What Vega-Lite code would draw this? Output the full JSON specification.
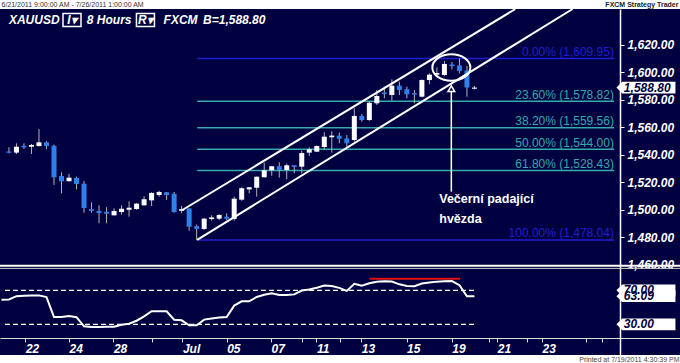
{
  "$schema": "https://vega.github.io/schema/vega-lite/v6.json",
  "width": 680,
  "height": 346,
  "autosize": {"type": "none"},
  "padding": {"left": 0, "right": 0, "top": 9, "bottom": 8},
  "background": "#ffffff",
  "config": {"view": {"fill": "#000040", "stroke": null}, "font": "Liberation Sans", "axis": {"grid": false, "labelOverlap": false}},
  "datasets": {
    "candles": [
      {"i":0,"O":1542.4,"H":1545.4,"L":1541.0,"C":1541.4},
      {"i":1,"O":1541.5,"H":1548.3,"L":1540.5,"C":1545.8},
      {"i":2,"O":1546.4,"H":1548.3,"L":1544.2,"C":1545.3},
      {"i":3,"O":1545.8,"H":1547.8,"L":1540.5,"C":1547.1},
      {"i":4,"O":1546.3,"H":1558.7,"L":1546.0,"C":1549.0},
      {"i":5,"O":1549.0,"H":1549.8,"L":1543.9,"C":1546.3},
      {"i":6,"O":1546.5,"H":1547.3,"L":1518.0,"C":1523.6},
      {"i":7,"O":1524.5,"H":1527.2,"L":1511.9,"C":1520.7},
      {"i":8,"O":1520.7,"H":1526.0,"L":1520.5,"C":1523.3},
      {"i":9,"O":1523.1,"H":1524.0,"L":1514.8,"C":1518.7},
      {"i":10,"O":1518.9,"H":1520.9,"L":1497.8,"C":1501.2},
      {"i":11,"O":1500.4,"H":1505.4,"L":1497.8,"C":1499.2},
      {"i":12,"O":1499.1,"H":1503.2,"L":1490.1,"C":1497.6},
      {"i":13,"O":1498.5,"H":1501.8,"L":1490.1,"C":1497.1},
      {"i":14,"O":1495.9,"H":1501.0,"L":1495.9,"C":1499.1},
      {"i":15,"O":1498.3,"H":1503.2,"L":1496.4,"C":1500.7},
      {"i":16,"O":1500.0,"H":1506.1,"L":1494.9,"C":1501.5},
      {"i":17,"O":1500.5,"H":1504.9,"L":1499.8,"C":1504.4},
      {"i":18,"O":1503.2,"H":1509.8,"L":1503.0,"C":1507.6},
      {"i":19,"O":1506.8,"H":1512.7,"L":1502.7,"C":1512.2},
      {"i":20,"O":1510.7,"H":1513.8,"L":1509.5,"C":1512.9},
      {"i":21,"O":1512.7,"H":1512.9,"L":1507.1,"C":1510.7},
      {"i":22,"O":1511.6,"H":1512.9,"L":1497.8,"C":1498.3},
      {"i":23,"O":1499.2,"H":1502.7,"L":1497.4,"C":1500.4},
      {"i":24,"O":1500.9,"H":1501.0,"L":1484.7,"C":1487.6},
      {"i":25,"O":1488.0,"H":1489.2,"L":1478.04,"C":1486.1},
      {"i":26,"O":1486.0,"H":1494.0,"L":1485.2,"C":1493.5},
      {"i":27,"O":1493.2,"H":1495.9,"L":1492.0,"C":1494.4},
      {"i":28,"O":1493.5,"H":1496.7,"L":1492.3,"C":1496.2},
      {"i":29,"O":1494.9,"H":1497.4,"L":1492.5,"C":1493.5},
      {"i":30,"O":1493.2,"H":1509.5,"L":1492.0,"C":1508.0},
      {"i":31,"O":1507.3,"H":1516.3,"L":1506.5,"C":1515.6},
      {"i":32,"O":1514.8,"H":1516.4,"L":1511.9,"C":1516.3},
      {"i":33,"O":1516.0,"H":1524.1,"L":1509.5,"C":1524.0},
      {"i":34,"O":1523.6,"H":1534.2,"L":1523.4,"C":1528.7},
      {"i":35,"O":1528.7,"H":1531.7,"L":1524.7,"C":1531.6},
      {"i":36,"O":1531.6,"H":1534.5,"L":1523.3,"C":1528.9},
      {"i":37,"O":1528.9,"H":1533.5,"L":1522.1,"C":1532.3},
      {"i":38,"O":1532.3,"H":1532.4,"L":1526.5,"C":1531.1},
      {"i":39,"O":1531.3,"H":1542.9,"L":1526.5,"C":1541.2},
      {"i":40,"O":1541.5,"H":1545.4,"L":1539.1,"C":1543.9},
      {"i":41,"O":1542.2,"H":1546.8,"L":1542.0,"C":1546.3},
      {"i":42,"O":1545.6,"H":1556.3,"L":1543.4,"C":1553.1},
      {"i":43,"O":1552.7,"H":1557.0,"L":1541.5,"C":1553.9},
      {"i":44,"O":1553.8,"H":1556.0,"L":1548.3,"C":1551.6},
      {"i":45,"O":1551.8,"H":1554.3,"L":1545.0,"C":1548.3},
      {"i":46,"O":1550.7,"H":1573.8,"L":1549.5,"C":1568.2},
      {"i":47,"O":1568.2,"H":1569.6,"L":1564.0,"C":1565.2},
      {"i":48,"O":1565.2,"H":1578.6,"L":1564.7,"C":1577.8},
      {"i":49,"O":1577.4,"H":1587.1,"L":1576.2,"C":1582.7},
      {"i":50,"O":1585.2,"H":1589.5,"L":1581.0,"C":1584.1},
      {"i":51,"O":1583.4,"H":1594.8,"L":1579.3,"C":1590.2},
      {"i":52,"O":1590.2,"H":1593.1,"L":1583.4,"C":1587.1},
      {"i":53,"O":1587.6,"H":1589.5,"L":1581.0,"C":1583.9},
      {"i":54,"O":1584.8,"H":1587.1,"L":1577.4,"C":1583.7},
      {"i":55,"O":1582.2,"H":1594.8,"L":1581.7,"C":1594.3},
      {"i":56,"O":1594.3,"H":1599.2,"L":1591.2,"C":1598.2},
      {"i":57,"O":1598.2,"H":1603.5,"L":1597.5,"C":1599.4},
      {"i":58,"O":1598.0,"H":1608.2,"L":1597.2,"C":1606.0},
      {"i":59,"O":1605.6,"H":1607.4,"L":1602.0,"C":1604.4},
      {"i":60,"O":1604.9,"H":1609.95,"L":1599.1,"C":1600.9},
      {"i":61,"O":1601.2,"H":1604.5,"L":1582.2,"C":1588.9},
      {"i":62,"O":1588.0,"H":1590.0,"L":1587.5,"C":1588.8}
    ],
    "rsi": [
      {"i":-1,"rsi":58.8},{"i":0,"rsi":59.3},{"i":1,"rsi":63.1},{"i":2,"rsi":63.5},{"i":3,"rsi":64.0},
      {"i":4,"rsi":64.0},{"i":5,"rsi":62.0},{"i":6,"rsi":38.6},{"i":7,"rsi":38.6},{"i":8,"rsi":39.8},
      {"i":9,"rsi":38.4},{"i":10,"rsi":27.6},{"i":11,"rsi":26.8},{"i":12,"rsi":26.9},{"i":13,"rsi":27.1},
      {"i":14,"rsi":27.2},{"i":15,"rsi":29.5},{"i":16,"rsi":30.6},{"i":17,"rsi":34.2},{"i":18,"rsi":39.3},
      {"i":19,"rsi":45.3},{"i":20,"rsi":45.3},{"i":21,"rsi":45.3},{"i":22,"rsi":35.4},{"i":23,"rsi":34.7},
      {"i":24,"rsi":28.8},{"i":25,"rsi":28.8},{"i":26,"rsi":35.5},{"i":27,"rsi":36.9},{"i":28,"rsi":38.1},
      {"i":29,"rsi":38.6},{"i":30,"rsi":52.0},{"i":31,"rsi":57.1},{"i":32,"rsi":57.1},{"i":33,"rsi":62.2},
      {"i":34,"rsi":64.7},{"i":35,"rsi":66.6},{"i":36,"rsi":64.5},{"i":37,"rsi":64.5},{"i":38,"rsi":65.2},
      {"i":39,"rsi":69.7},{"i":40,"rsi":70.9},{"i":41,"rsi":73.0},{"i":42,"rsi":75.6},{"i":43,"rsi":75.1},
      {"i":44,"rsi":72.9},{"i":45,"rsi":69.3},{"i":46,"rsi":77.7},{"i":47,"rsi":75.3},{"i":48,"rsi":78.2},
      {"i":49,"rsi":80.0},{"i":50,"rsi":80.6},{"i":51,"rsi":80.3},{"i":52,"rsi":77.0},{"i":53,"rsi":75.0},
      {"i":54,"rsi":74.9},{"i":55,"rsi":77.9},{"i":56,"rsi":79.3},{"i":57,"rsi":80.2},{"i":58,"rsi":80.6},
      {"i":59,"rsi":80.9},{"i":60,"rsi":76.0},{"i":61,"rsi":63.0},{"i":62,"rsi":63.09}
    ],
    "fib": [
      {"label":"0.00% (1,609.95)","level":1609.95,"kind":"edge"},
      {"label":"23.60% (1,578.82)","level":1578.82,"kind":"inner"},
      {"label":"38.20% (1,559.56)","level":1559.56,"kind":"inner"},
      {"label":"50.00% (1,544.00)","level":1544.00,"kind":"inner"},
      {"label":"61.80% (1,528.43)","level":1528.43,"kind":"inner"},
      {"label":"100.00% (1,478.04)","level":1478.04,"kind":"edge"}
    ],
    "channel": [
      {"ch":"upper","i":23.1,"p":1499.78},
      {"ch":"upper","i":67.45,"p":1645.96},
      {"ch":"lower","i":25.07,"p":1478.04},
      {"ch":"lower","i":75.07,"p":1645.96}
    ],
    "header": [
      {"label":"XAUUSD","i":0.0},
      {"label":"8 Hours","i":10.37},
      {"label":"FXCM","i":20.6},
      {"label":"B=1,588.80","i":25.85}
    ],
    "buttons": [
      {"label":"I▾","i":8.4},
      {"label":"R▾","i":18.18}
    ],
    "note": [
      {"label":"Večerní padající","p":1507.6},
      {"label":"hvězda","p":1493.0}
    ]
  },
  "layer": [
    {
      "layer": [
        {
          "data": {"name": "fib"},
          "mark": {"type": "rule", "strokeWidth": 1.5},
          "encoding": {
            "x": {"datum": 25.07, "type": "quantitative", "title": "Printed at 7/19/2011 4:30:39 PM",
              "scale": {"domain": [-0.525, 88.71], "nice": false, "zero": false},
              "axis": {"orient": "bottom", "offset": -17, "tickCount": 200,
                "values": [2.19, 8, 13.91, 19.03, 23.1, 29, 34.91, 39.07, 40.95, 44.09, 46.92, 52.95, 58.99, 64, 65.03, 69.03, 71, 76.9, 79],
                "labelExpr": "abs(datum.value - 2.19) < 0.05 ? '22' : abs(datum.value - 8) < 0.05 ? '24' : abs(datum.value - 13.91) < 0.05 ? '28' : abs(datum.value - 23.1) < 0.05 ? 'Jul' : abs(datum.value - 29) < 0.05 ? '05' : abs(datum.value - 34.91) < 0.05 ? '07' : abs(datum.value - 40.95) < 0.05 ? '11' : abs(datum.value - 46.92) < 0.05 ? '13' : abs(datum.value - 52.95) < 0.05 ? '15' : abs(datum.value - 58.99) < 0.05 ? '19' : abs(datum.value - 65.03) < 0.05 ? '21' : abs(datum.value - 71) < 0.05 ? '23' : ''",
                "labelAlign": "left", "labelBaseline": "top", "labelPadding": 1, "labelDx": 1,
                "labelColor": "#ffffff", "labelFontSize": 12, "labelFontWeight": "bold", "labelFontStyle": "italic",
                "labelOverlap": false, "labelFlush": false, "labelBound": false,
                "tickColor": "#dddddd", "tickSize": 4, "domainColor": "#dddddd", "domainWidth": 1,
                "title": "Printed at 7/19/2011 4:30:39 PM", "titleX": 679, "titleY": 21, "titleAlign": "right",
                "titleBaseline": "middle", "titleFontSize": 7, "titleFontWeight": "normal", "titleColor": "#444444"}},
            "x2": {"datum": 80.6},
            "y": {"field": "level", "type": "quantitative", "title": "6/21/2011 9:00:00 AM - 7/26/2011 1:00:00 AM",
              "scale": {"domain": [1394.33, 1645.96], "nice": false, "zero": false},
              "axis": {"orient": "right", "offset": -60, "tickCount": 200,
                "values": [1460, 1480, 1500, 1520, 1540, 1560, 1580, 1600, 1620], "format": ",.2f",
                "labelColor": "#ffffff", "labelFontSize": 12, "labelFontWeight": "bold", "labelFontStyle": "italic",
                "labelPadding": 3, "labelOverlap": false, "labelFlush": false,
                "tickColor": "#ffffff", "tickSize": 4, "domainColor": "#ffffff", "domainWidth": 1.5,
                "title": "6/21/2011 9:00:00 AM - 7/26/2011 1:00:00 AM", "titleX": -619, "titleY": -4.5, "titleAngle": 0,
                "titleAlign": "left", "titleBaseline": "middle", "titleFontSize": 7, "titleFontWeight": "normal", "titleColor": "#333333"}},
            "color": {"field": "kind", "type": "nominal", "scale": {"domain": ["edge", "inner"], "range": ["#1f1fd0", "#35aaaa"]}, "legend": null}
          }
        },
        {
          "data": {"name": "fib"},
          "mark": {"type": "text", "align": "right", "baseline": "alphabetic", "dy": -2.5, "fontSize": 12},
          "encoding": {
            "x": {"datum": 80.58},
            "y": {"field": "level", "type": "quantitative"},
            "text": {"field": "label"},
            "color": {"field": "kind", "type": "nominal", "legend": null}
          }
        },
        {
          "data": {"name": "candles"},
          "mark": {"type": "rule", "color": "#b4b4b4", "strokeWidth": 1},
          "encoding": {
            "x": {"field": "i", "type": "quantitative"},
            "y": {"field": "L", "type": "quantitative"},
            "y2": {"field": "H"}
          }
        },
        {
          "data": {"name": "candles"},
          "mark": {"type": "bar", "size": 5},
          "encoding": {
            "x": {"field": "i", "type": "quantitative"},
            "y": {"field": "O", "type": "quantitative"},
            "y2": {"field": "C"},
            "color": {"condition": {"test": "datum.C >= datum.O", "value": "#ffffff"}, "value": "#2f80e8"}
          }
        },
        {
          "data": {"name": "channel"},
          "mark": {"type": "line", "color": "#ffffff", "strokeWidth": 2},
          "encoding": {
            "x": {"field": "i", "type": "quantitative"},
            "y": {"field": "p", "type": "quantitative"},
            "detail": {"field": "ch"}
          }
        },
        {
          "data": {"values": [{"pattern": "evening star"}]},
          "mark": {"type": "point", "shape": "M -1 0 A 1 0.7 0 1 1 1 0 A 1 0.7 0 1 1 -1 0 Z", "size": 1444, "filled": false, "color": "#ffffff", "strokeWidth": 2, "opacity": 1},
          "encoding": {
            "x": {"datum": 58.92},
            "y": {"datum": 1603.4}
          }
        },
        {
          "data": {"values": [{"pattern": "evening star"}]},
          "mark": {"type": "rule", "color": "#ffffff", "strokeWidth": 1.5},
          "encoding": {
            "x": {"datum": 58.92},
            "y": {"datum": 1586.5},
            "y2": {"datum": 1513.1}
          }
        },
        {
          "data": {"values": [{"pattern": "evening star"}]},
          "mark": {"type": "point", "shape": "triangle-up", "size": 45, "filled": true, "fill": "#000040", "stroke": "#ffffff", "strokeWidth": 1.5, "opacity": 1},
          "encoding": {
            "x": {"datum": 58.92},
            "y": {"datum": 1588.0}
          }
        },
        {
          "data": {"name": "note"},
          "mark": {"type": "text", "align": "left", "baseline": "middle", "fontSize": 12.5, "fontWeight": "bold", "color": "#ffffff"},
          "encoding": {
            "x": {"datum": 57.31},
            "y": {"field": "p", "type": "quantitative"},
            "text": {"field": "label"}
          }
        },
        {
          "data": {"name": "header"},
          "mark": {"type": "text", "align": "left", "baseline": "middle", "fontSize": 12, "fontWeight": "bold", "fontStyle": "italic", "color": "#ffffff"},
          "encoding": {
            "x": {"field": "i", "type": "quantitative"},
            "y": {"datum": 1637.96},
            "text": {"field": "label"}
          }
        },
        {
          "data": {"name": "buttons"},
          "mark": {"type": "point", "shape": "M -1 -0.72 L 1 -0.72 L 1 0.72 L -1 0.72 Z", "size": 324, "filled": false, "color": "#ffffff", "strokeWidth": 1.5, "opacity": 1},
          "encoding": {
            "x": {"field": "i", "type": "quantitative"},
            "y": {"datum": 1637.96}
          }
        },
        {
          "data": {"name": "buttons"},
          "mark": {"type": "text", "align": "center", "baseline": "middle", "fontSize": 12, "fontWeight": "bold", "fontStyle": "italic", "color": "#ffffff"},
          "encoding": {
            "x": {"field": "i", "type": "quantitative"},
            "y": {"datum": 1637.96},
            "text": {"field": "label"}
          }
        },
        {
          "data": {"values": [{"v": 1588.8}]},
          "mark": {"type": "point", "shape": "M -1 0 L -0.8 -0.2 L 1 -0.2 L 1 0.2 L -0.8 0.2 Z", "size": 3481, "filled": true, "color": "#ffffff", "opacity": 1},
          "encoding": {
            "x": {"datum": 84.84},
            "y": {"field": "v", "type": "quantitative"}
          }
        },
        {
          "data": {"values": [{"v": 1588.8}]},
          "mark": {"type": "text", "align": "left", "baseline": "middle", "fontSize": 12, "fontWeight": "bold", "fontStyle": "italic", "color": "#000040"},
          "encoding": {
            "x": {"datum": 81.9},
            "y": {"field": "v", "type": "quantitative"},
            "text": {"field": "v", "format": ",.2f"}
          }
        },
        {
          "data": {"values": [{"panel": "separator"}]},
          "mark": {"type": "rule", "color": "#ffffff", "strokeWidth": 2},
          "encoding": {"y": {"datum": 1459.2}}
        },
        {
          "data": {"values": [{"panel": "separator"}]},
          "mark": {"type": "rule", "color": "#c8c8c8", "strokeWidth": 1},
          "encoding": {"y": {"datum": 1457.3}}
        }
      ]
    },
    {
      "layer": [
        {
          "data": {"values": [{"v": 70}, {"v": 30}]},
          "mark": {"type": "rule", "color": "#ffffff", "strokeWidth": 1.2, "strokeDash": [5, 3]},
          "encoding": {
            "x": {"datum": -0.525},
            "x2": {"datum": 62},
            "y": {"field": "v", "type": "quantitative", "title": "FXCM Strategy Trader",
              "scale": {"domain": [-6.12, 400.94], "nice": false, "zero": false},
              "axis": {"orient": "left", "labels": false, "ticks": false, "domain": false, "grid": false,
                "title": "FXCM Strategy Trader", "titleX": 678, "titleY": -4.5, "titleAngle": 0, "titleAlign": "right",
                "titleBaseline": "middle", "titleFontSize": 7, "titleFontWeight": "bold", "titleColor": "#222222"}}
          }
        },
        {
          "data": {"values": [{"line": "resistance"}]},
          "mark": {"type": "rule", "color": "#e01010", "strokeWidth": 2},
          "encoding": {
            "x": {"datum": 48.03},
            "x2": {"datum": 60.07},
            "y": {"datum": 83.6}
          }
        },
        {
          "data": {"name": "rsi"},
          "mark": {"type": "line", "color": "#ffffff", "strokeWidth": 2},
          "encoding": {
            "x": {"field": "i", "type": "quantitative"},
            "y": {"field": "rsi", "type": "quantitative"}
          }
        },
        {
          "data": {"values": [{"v": 63.09}, {"v": 70}, {"v": 30}]},
          "mark": {"type": "point", "shape": "M -1 0 L -0.8 -0.2 L 1 -0.2 L 1 0.2 L -0.8 0.2 Z", "size": 3481, "filled": true, "color": "#ffffff", "opacity": 1},
          "encoding": {
            "x": {"datum": 84.84},
            "y": {"field": "v", "type": "quantitative"}
          }
        },
        {
          "data": {"values": [{"v": 63.09}, {"v": 70}, {"v": 30}]},
          "mark": {"type": "text", "align": "left", "baseline": "middle", "fontSize": 12, "fontWeight": "bold", "fontStyle": "italic", "color": "#000040"},
          "encoding": {
            "x": {"datum": 81.9},
            "y": {"field": "v", "type": "quantitative"},
            "text": {"field": "v", "format": ".2f"}
          }
        }
      ]
    }
  ],
  "resolve": {"scale": {"y": "independent"}, "axis": {"y": "independent"}}
}
